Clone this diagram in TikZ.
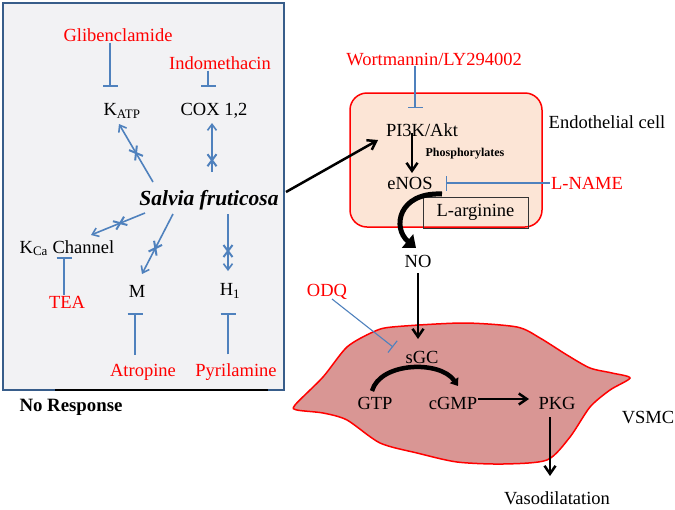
\documentclass[tikz,border=0pt]{standalone}
\usepackage{fontspec}
\setmainfont{Liberation Serif}
\usetikzlibrary{arrows.meta}
\definecolor{txtred}{RGB}{255,0,0}
\definecolor{lnblue}{RGB}{79,129,189}
\definecolor{boxblue}{RGB}{56,93,138}
\definecolor{boxfill}{RGB}{242,242,244}
\definecolor{peach}{RGB}{252,229,214}
\definecolor{rose}{RGB}{217,150,148}
\tikzset{
  redtxt/.style={text=txtred},
  barr/.style={draw=lnblue, line width=1.6pt, -{Straight Barb[length=6pt,width=9pt]}},
  inh/.style={draw=lnblue, line width=1.6pt, -{Bar[width=15pt]}},
  inhthin/.style={draw=lnblue, line width=1.1pt, -{Bar[width=15pt]}},
  blk/.style={draw=black, line width=2.5pt, -{Straight Barb[length=8pt,width=11pt]}},
  xmark/.pic={\draw[lnblue, line width=2pt, -] (-6,-4.5) -- (6,4.5) (-6,4.5) -- (6,-4.5);}
}
\begin{document}
\begin{tikzpicture}[x=1pt,y=-1pt, every node/.style={font=\fontsize{18.5}{22}\selectfont, inner sep=1pt}]
\useasboundingbox (0,0) rectangle (675,509);

% ---------- left box ----------
\draw[draw=boxblue, fill=boxfill, line width=1.8pt] (3,3) rectangle (284,390);
\draw[black, line width=1.8pt] (55,390) -- (268,390);

\node[redtxt] (glib) at (118,35) {Glibenclamide};
\node[redtxt] (indo) at (220,63) {Indomethacin};
\node (katp) at (122,111) {K\textsubscript{ATP}};
\node (cox) at (214,111) {COX 1,2};
\node[font=\fontsize{21.5}{24}\selectfont\bfseries\itshape] (sf) at (209,200) {Salvia fruticosa};
\node (kca) at (67,248) {K\textsubscript{Ca} Channel};
\node[redtxt] (tea) at (67,302) {TEA};
\node (m) at (137,291) {M};
\node (h1) at (230,291) {H\textsubscript{1}};
\node[redtxt] (atro) at (143,372) {Atropine};
\node[redtxt] (pyri) at (236,372) {Pyrilamine};
\node[font=\fontsize{18.8}{22}\selectfont\bfseries] (nr) at (71,407) {No Response};

% inhibitions in left box
\coordinate (katpbar) at (110,87);
\coordinate (coxbar) at (208,87);
\coordinate (kcabar) at (64,257);
\coordinate (mbar) at (135,313);
\coordinate (hbar) at (228,313);
\draw[inh] (glib.south -| katpbar) -- (katpbar);
\draw[inh] (indo.south -| coxbar) -- (coxbar);
\draw[inh] (tea.north -| kcabar) -- (kcabar);
\draw[inh] (atro.north -| mbar) ++(0,-8) -- (mbar);
\draw[inh] (pyri.north -| hbar) ++(0,-8) -- (hbar);

% blocked arrows from Salvia fruticosa
\coordinate (sfA) at (153,182); \coordinate (katpA) at (119,124);
\coordinate (sfB) at (212,172); \coordinate (coxA) at (212,123);
\coordinate (sfC) at (145,213); \coordinate (kcaA) at (91,235);
\coordinate (sfD) at (173,214); \coordinate (mA) at (142,274);
\coordinate (sfE) at (228,214); \coordinate (hA) at (228,271);
\draw[barr] (sfA) -- (katpA) pic[pos=0.5, sloped]{xmark};
\draw[barr] (sfB) -- (coxA) pic[pos=0.24, sloped]{xmark};
\draw[barr] (sfC) -- (kcaA) pic[pos=0.46, sloped]{xmark};
\draw[barr] (sfD) -- (mA) pic[pos=0.57, sloped]{xmark};
\draw[barr] (sfE) -- (hA) pic[pos=0.65, sloped]{xmark};

% ---------- endothelial cell ----------
\node[draw=red, fill=peach, line width=1.5pt, rounded corners=17pt, minimum width=192pt, minimum height=134pt] (endo) at (446,160) {};
\node[redtxt] (wort) at (434,59) {Wortmannin/LY294002};
\node (pi3k) at (422,130) {PI3K/Akt};
\node (endotext) at (607,122) {Endothelial cell};
\node[font=\fontsize{12}{14}\selectfont\bfseries] (phos) at (465,154) {Phosphorylates};
\node (enos) at (410,183) {eNOS};
\node[redtxt] (lname) at (587,183) {L-NAME};
\node[draw=black!80, line width=0.8pt, minimum width=105pt, minimum height=31pt] (larg) at (475.5,212.5) {L-arginine};

\coordinate (pi3kbar) at (415,108);
\draw[inhthin] (wort.south -| pi3kbar) -- (pi3kbar);
\coordinate (enosbar) at (446,183);
\draw[inhthin] (lname.west) -- (enosbar);

\coordinate (sfout) at (286,192);
\coordinate (pi3kin) at (378,140);
\draw[blk] (sfout) -- (pi3kin);
\coordinate (pi3kout) at (412,133);
\coordinate (enosin) at (412,173);
\draw[blk] (pi3kout) -- (enosin);

\coordinate (enosout) at (442,194);
\coordinate (noin) at (416,248);
\draw[line width=5pt, -{Triangle[length=11pt,width=17pt]}] (enosout) .. controls (398,192) and (392,228) .. (noin);

\node (no) at (418,261) {NO};

% ---------- VSMC ----------
\draw[draw=red, fill=rose, line width=1.5pt] plot[smooth cycle, tension=0.45] coordinates {
 (295,405) (323,377) (347,347) (373,332) (392,327) (463,323) (517,327) (540,338)
 (567,355) (590,368) (612,373) (630,378) (610,390) (590,407) (570,437) (547,460)
 (503,464) (457,462) (417,453) (380,443) (347,420) (323,413) (297,410)};

\node[redtxt] (odq) at (327,292) {ODQ};
\node (sgc) at (422,357) {sGC};
\node (gtp) at (375,403) {GTP};
\node (cgmp) at (453,403) {cGMP};
\node (pkg) at (557,403) {PKG};
\node (vsmc) at (648,418) {VSMC};
\node (vaso) at (557,498) {Vasodilatation};

\coordinate (noout) at (418,273);
\coordinate (sgcin) at (418,339);
\draw[blk] (noout) -- (sgcin);
\coordinate (odqout) at (332,299);
\coordinate (sgcbar) at (393,347);
\draw[inhthin] (odqout) -- (sgcbar);

\coordinate (gtpout) at (372,391);
\coordinate (cgmpin) at (458,386);
\draw[line width=4.5pt, -{Triangle[length=7pt,width=10pt]}] (gtpout) .. controls (380,362) and (440,360) .. (cgmpin);

\coordinate (cgmpout) at (478,399);
\coordinate (pkgin) at (529,399);
\draw[blk] (cgmpout) -- (pkgin);
\coordinate (pkgout) at (550,417);
\coordinate (vasoin) at (550,476);
\draw[blk] (pkgout) -- (vasoin);
\end{tikzpicture}
\end{document}
